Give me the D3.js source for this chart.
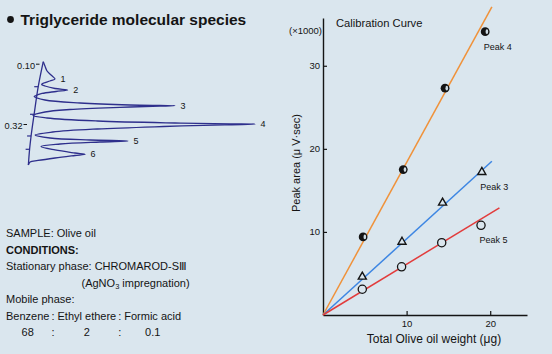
<!DOCTYPE html>
<html>
<head>
<meta charset="utf-8">
<script src="https://cdn.jsdelivr.net/npm/d3@7"></script>
<style>
  body { margin: 0; background: #dae6ee; }
  svg { display: block; font-family: "Liberation Sans", Arial, sans-serif; }
</style>
</head>
<body>
<div id="chart"></div>
<script>
const width = 552, height = 354;
const bg = "#dae6ee";
const ink = "#141414";

// calibration curve
const weight4 = [4.8, 9.6, 14.6, 19.4];
const area4   = [9.4, 17.5, 27.3, 34.1];
const weight3 = [4.7, 9.45, 14.3, 19.0];
const area3   = [4.6, 8.8, 13.5, 17.2];
const weight5 = [4.7, 9.4, 14.2, 18.9];
const area5   = [3.1, 5.8, 8.7, 10.8];
// fitted lines [weight, area] start / end
const fit4 = [[0, 0], [20.2, 37.1]];
const fit3 = [[0, 0], [20.2, 18.5]];
const fit5 = [[0, 0], [21.1, 12.9]];
const xTicks = [10, 20];
const yTicks = [10, 20, 30];
const peakNames = ["Peak 4", "Peak 3", "Peak 5"];

// densitometer trace [Rf, signal]
const trace = [
  [0.0854, 8.7], [0.1011, 9.5], [0.1193, 10.5], [0.1339, 12.4], [0.1485, 14.3],
  [0.1558, 11.9], [0.1631, 9.0], [0.1686, 7.9],
  [0.1741, 9.5], [0.1832, 14.3], [0.1886, 20.3], [0.1941, 14.8], [0.2014, 8.1],
  [0.2105, 4.8], [0.2131, 4.4],
  [0.2251, 9.5], [0.2361, 26.2], [0.2434, 50], [0.2452, 64.3], [0.2459, 71.4],
  [0.2477, 64.3], [0.2518, 45.2], [0.2598, 21.4], [0.2689, 9.5], [0.2817, 3.8],
  [0.2908, 10.5], [0.3017, 34.5], [0.3090, 71.4], [0.3120, 97.8], [0.3134, 109.5],
  [0.3156, 95.1], [0.3218, 66], [0.3309, 34.4], [0.3419, 13.2], [0.3528, 4.8],
  [0.3638, 11.9], [0.3711, 31], [0.3747, 49], [0.3784, 35.7], [0.3857, 16.7],
  [0.3948, 7.6],
  [0.4075, 14.3], [0.4185, 23.8], [0.4232, 28.6], [0.4276, 23.8], [0.4367, 14.3],
  [0.4458, 6.2], [0.4513, 2.4], [0.4622, 1.6]
];
const baseline = [[0.0854, 8.7], [0.1766, 6.3], [0.2798, 4.3], [0.3564, 2.9], [0.4039, 2.2], [0.4622, 1.6]];
const rfLabels = [0.10, 0.32];
const minorTicks = [[0.1766, 6.3], [0.2773, 4.3], [0.3564, 2.9], [0.4050, 2.2]];
const peakIds = ["1", "2", "3", "4", "5", "6"];
const peakTips = [[0.1485, 14.3], [0.1886, 20.3], [0.2459, 71.4], [0.3134, 109.5], [0.3747, 49], [0.4232, 28.6]];

// conditions text
const sampleName = "Olive oil";
const phaseName = "CHROMAROD-S\u2162";
const solvents = ["Benzene", "Ethyl ethere", "Formic acid"];
const ratios = ["68", "2", "0.1"];

const svg = d3.select("#chart").append("svg")
  .attr("width", width)
  .attr("height", height);

svg.append("rect").attr("width", width).attr("height", height).attr("fill", bg);

// title
svg.append("circle").attr("cx", 10.5).attr("cy", 19.5).attr("r", 3.4).attr("fill", ink);
svg.append("text")
  .attr("x", 20.5).attr("y", 25)
  .attr("font-size", 15.5).attr("font-weight", "bold").attr("fill", ink)
  .text("Triglyceride molecular species");

// ---------- chromatogram ----------
const rf = d3.scaleLinear().domain([0.10, 0.32]).range([65.7, 126]);
const sig = d3.scaleLinear().domain([0, 100]).range([25, 235]);
const navy = "#2e2f8c";

const traceLine = d3.line()
  .x(d => sig(d[1]))
  .y(d => rf(d[0]))
  .curve(d3.curveCatmullRom.alpha(0.5));

svg.append("path").datum(baseline)
  .attr("d", traceLine).attr("fill", "none")
  .attr("stroke", navy).attr("stroke-width", 1.3);
svg.append("path").datum(trace)
  .attr("d", traceLine).attr("fill", "none")
  .attr("stroke", navy).attr("stroke-width", 1.3).attr("stroke-linejoin", "round");

svg.selectAll(".minor").data(minorTicks).enter().append("line")
  .attr("x1", d => sig(d[1]) - 4).attr("x2", d => sig(d[1]))
  .attr("y1", d => rf(d[0])).attr("y2", d => rf(d[0]))
  .attr("stroke", navy).attr("stroke-width", 1.2);

const rfX = [35, 22.5];
rfLabels.forEach((v, i) => {
  svg.append("text")
    .attr("x", rfX[i]).attr("y", rf(v)).attr("dy", "0.35em")
    .attr("text-anchor", "end").attr("font-size", 9.2).attr("fill", ink)
    .text(v.toFixed(2));
  svg.append("line")
    .attr("x1", rfX[i] + 1).attr("x2", rfX[i] + 4.5)
    .attr("y1", rf(v) - 1.5).attr("y2", rf(v) - 1.5)
    .attr("stroke", ink).attr("stroke-width", 1);
});

svg.selectAll(".pk").data(peakTips).enter().append("text")
  .attr("x", d => sig(d[1]) + 5.5).attr("y", d => rf(d[0])).attr("dy", "0.35em")
  .attr("font-size", 9).attr("fill", ink)
  .text((d, i) => peakIds[i]);

// ---------- conditions block ----------
const tx = 6, fs = 11;
function line(y, txt, bold) {
  return svg.append("text").attr("x", tx).attr("y", y)
    .attr("font-size", fs).attr("fill", ink)
    .attr("font-weight", bold ? "bold" : null).text(txt);
}
line(237, "SAMPLE: " + sampleName);
line(253.5, "CONDITIONS:", true);
line(270, "Stationary phase: " + phaseName);
const ag = svg.append("text").attr("x", 81.5).attr("y", 286.5)
  .attr("font-size", fs).attr("fill", ink);
ag.append("tspan").text("(AgNO");
ag.append("tspan").attr("font-size", 7.5).attr("dy", 2.5).text("3");
ag.append("tspan").attr("dy", -2.5).text(" impregnation)");
line(303, "Mobile phase:");

// solvent row, ratios centred under each solvent
let cx = tx;
const centres = [], colons = [];
solvents.forEach((s, i) => {
  const t = svg.append("text").attr("x", cx).attr("y", 319.5)
    .attr("font-size", fs).attr("fill", ink).text(s);
  const w = t.node().getComputedTextLength();
  centres.push(cx + w / 2);
  cx += w;
  if (i < solvents.length - 1) {
    const c = svg.append("text").attr("x", cx + 2).attr("y", 319.5)
      .attr("font-size", fs).attr("fill", ink).text(":");
    const cw = c.node().getComputedTextLength();
    colons.push(cx + 2 + cw / 2);
    cx += cw + 5;
  }
});
ratios.forEach((r, i) => {
  svg.append("text").attr("x", centres[i]).attr("y", 336)
    .attr("text-anchor", "middle").attr("font-size", fs).attr("fill", ink).text(r);
});
colons.forEach(c => {
  svg.append("text").attr("x", c).attr("y", 336)
    .attr("text-anchor", "middle").attr("font-size", fs).attr("fill", ink).text(":");
});

// ---------- calibration curve ----------
const x = d3.scaleLinear().domain([0, 24.4]).range([323, 527]);
const y = d3.scaleLinear().domain([0, 35.75]).range([315, 18]);

svg.append("g")
  .attr("transform", "translate(0,315)")
  .call(d3.axisBottom(x).tickValues(xTicks).tickSizeInner(-4).tickSizeOuter(0).tickPadding(5))
  .call(g => g.select(".domain").attr("stroke", ink).attr("stroke-width", 1.4))
  .call(g => g.selectAll(".tick line").attr("stroke", ink).attr("stroke-width", 1.2))
  .call(g => g.selectAll("text").attr("font-size", 9.5).attr("fill", ink).attr("font-family", null));

svg.append("g")
  .attr("transform", "translate(323,0)")
  .call(d3.axisLeft(y).tickValues(yTicks).tickSizeInner(-4).tickSizeOuter(0).tickPadding(3))
  .call(g => g.select(".domain").attr("stroke", ink).attr("stroke-width", 1.4))
  .call(g => g.selectAll(".tick line").attr("stroke", ink).attr("stroke-width", 1.2))
  .call(g => g.selectAll("text").attr("font-size", 9.5).attr("fill", ink).attr("font-family", null));

svg.append("text").attr("x", 322).attr("y", 34)
  .attr("text-anchor", "end").attr("font-size", 9.5).attr("fill", ink)
  .text("(\u00d71000)");
svg.append("text").attr("x", 336).attr("y", 26.5)
  .attr("font-size", 11.2).attr("fill", ink)
  .text("Calibration Curve");

svg.append("text").attr("x", 434).attr("y", 343)
  .attr("text-anchor", "middle").attr("font-size", 12).attr("fill", ink)
  .text("Total Olive oil weight (\u03bcg)");
svg.append("text")
  .attr("transform", "translate(300,163) rotate(-90)")
  .attr("text-anchor", "middle").attr("font-size", 11).attr("fill", ink)
  .text("Peak area (\u03bc V\u00b7sec)");

const fitLine = d3.line().x(d => x(d[0])).y(d => y(d[1]));
const series = [
  { name: peakNames[0], wx: weight4, ay: area4, fit: fit4, color: "#f0923a", mark: "half" },
  { name: peakNames[1], wx: weight3, ay: area3, fit: fit3, color: "#3d86e3", mark: "tri" },
  { name: peakNames[2], wx: weight5, ay: area5, fit: fit5, color: "#e23c3c", mark: "open" }
];

series.forEach(s => {
  svg.append("path").datum(s.fit)
    .attr("d", fitLine).attr("fill", "none")
    .attr("stroke", s.color).attr("stroke-width", 1.5);
});

series.forEach(s => {
  const pts = s.wx.map((w, i) => [w, s.ay[i]]);
  const g = svg.append("g");
  if (s.mark === "half") {
    g.selectAll("circle.a").data(pts).enter().append("circle")
      .attr("cx", d => x(d[0])).attr("cy", d => y(d[1])).attr("r", 4.4)
      .attr("fill", ink);
    g.selectAll("ellipse").data(pts).enter().append("ellipse")
      .attr("cx", d => x(d[0]) + 1.7).attr("cy", d => y(d[1]))
      .attr("rx", 1.3).attr("ry", 2.4).attr("fill", "#cfdce4");
  } else if (s.mark === "tri") {
    g.selectAll("path").data(pts).enter().append("path")
      .attr("transform", d => `translate(${x(d[0])},${y(d[1])})`)
      .attr("d", d3.symbol(d3.symbolTriangle, 28))
      .attr("fill", bg).attr("stroke", ink).attr("stroke-width", 1.4);
  } else {
    g.selectAll("circle").data(pts).enter().append("circle")
      .attr("cx", d => x(d[0])).attr("cy", d => y(d[1])).attr("r", 4.1)
      .attr("fill", bg).attr("stroke", ink).attr("stroke-width", 1.3);
  }
  const last = pts[pts.length - 1];
  svg.append("text")
    .attr("x", x(last[0]) - 1.5).attr("y", y(last[1]) + 18)
    .attr("font-size", 9).attr("fill", ink)
    .text(s.name);
});
</script>
</body>
</html>
